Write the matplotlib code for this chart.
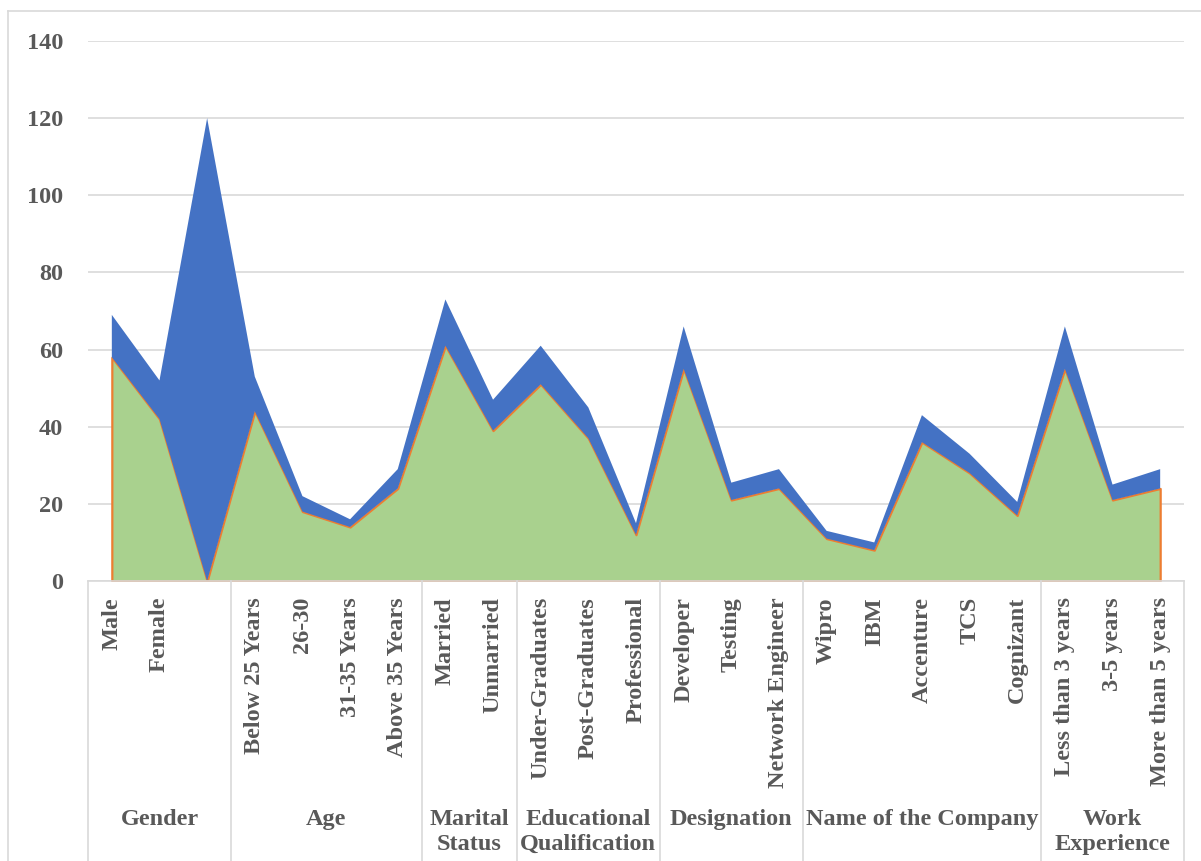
import matplotlib
matplotlib.use("Agg")
import matplotlib.pyplot as plt
from matplotlib.lines import Line2D

# Sub-category labels (the third Gender slot is an unlabeled column)
categories = ["Male", "Female", "",
              "Below 25 Years", "26-30", "31-35 Years", "Above 35 Years",
              "Married", "Unmarried",
              "Under-Graduates", "Post-Graduates", "Professional",
              "Developer", "Testing", "Network Engineer",
              "Wipro", "IBM", "Accenture", "TCS", "Cognizant",
              "Less than 3 years", "3-5 years", "More than 5 years"]

# Group headings and how many sub-categories each one spans
groups = ["Gender", "Age", "Marital\nStatus", "Educational\nQualification",
          "Designation", "Name of the Company", "Work\nExperience"]
group_sizes = [3, 4, 2, 3, 3, 5, 3]

# Lower (green) series
series_lower = [58, 42, 0,
                44, 18, 14, 24,
                61, 39,
                51, 37, 12,
                55, 21, 24,
                11, 8, 36, 28, 17,
                55, 21, 24]

# Upper (blue) series, stacked on the lower one
series_upper = [11, 10, 120,
                9, 4, 2, 5,
                12, 8,
                10, 8, 3,
                11, 4.5, 5,
                2, 2, 7, 5, 3.5,
                11, 4, 5]

yticks = [0, 20, 40, 60, 80, 100, 120, 140]

GREEN = "#A9D18E"
BLUE = "#4472C4"
ORANGE = "#ED7D31"
GRID = "#D9D9D9"
TEXT = "#595959"
FONT = "Liberation Serif"
FS = 17.5

W, H = 1201, 861
fig = plt.figure(figsize=(W / 100, H / 100), dpi=100)
left, right, bottom, top = 88, 1184, 581, 41
ax = fig.add_axes([left / W, 1 - bottom / H, (right - left) / W, (bottom - top) / H])

x = list(range(len(categories)))
polys = ax.stackplot(x, series_lower, series_upper, colors=[GREEN, BLUE], zorder=2)
polys[0].set_edgecolor(ORANGE)
polys[0].set_linewidth(1.6)
polys[1].set_edgecolor("none")
polys[1].set_linewidth(0)

ax.set_xlim(-0.5, len(categories) - 0.5)
ax.set_ylim(0, 140)
ax.set_yticks(yticks)
ax.set_yticklabels([str(v) for v in yticks], fontfamily=FONT, fontweight="bold",
                   fontsize=FS, color=TEXT)
ax.tick_params(axis="y", length=0, pad=18)
ax.set_xticks([])
ax.grid(axis="y", color=GRID, linewidth=1.2, zorder=0)
ax.set_axisbelow(True)
for side in ["left", "right", "top"]:
    ax.spines[side].set_visible(False)
ax.spines["bottom"].set_color(GRID)
ax.spines["bottom"].set_linewidth(1.2)
ax.spines["bottom"].set_zorder(5)

trans = ax.get_xaxis_transform()
px = 1.0 / (bottom - top)  # one pixel in axes-fraction units

# Rotated sub-category labels
for xi, lab in zip(x, categories):
    ax.text(xi, -16 * px, lab, transform=trans, rotation=90, ha="center", va="top",
            fontfamily=FONT, fontweight="bold", fontsize=FS, color=TEXT, clip_on=False)

# Group headings and separators
line_bottom = -(H - bottom) * px
start = 0
bounds = [-0.5]
for g, n in zip(groups, group_sizes):
    center = start + (n - 1) / 2
    ax.text(center, -228 * px, g, transform=trans, ha="center", va="top",
            fontfamily=FONT, fontweight="bold", fontsize=FS, color=TEXT,
            linespacing=1.22, multialignment="center", clip_on=False)
    start += n
    bounds.append(start - 0.5)
for b in bounds:
    ax.add_line(Line2D([b, b], [0, line_bottom], transform=trans, color=GRID,
                       linewidth=1.2, clip_on=False))

# Outer chart-area border
fig.add_artist(Line2D([8 / W, 8 / W], [0, 1 - 11 / H], color=GRID, linewidth=1.2))
fig.add_artist(Line2D([8 / W, 1], [1 - 11 / H, 1 - 11 / H], color=GRID, linewidth=1.2))

fig.savefig("out.png", dpi=100, facecolor="white")
